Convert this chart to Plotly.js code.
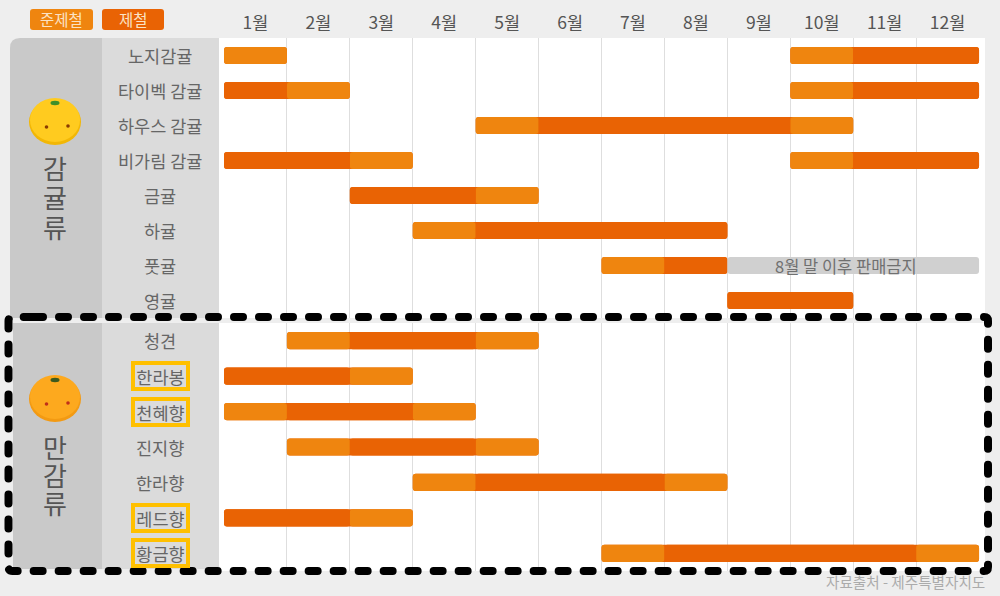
<!DOCTYPE html>
<html><head><meta charset="utf-8">
<script src="https://cdn.plot.ly/plotly-3.0.1.min.js"></script>
<style>html,body{margin:0;padding:0;background:#eeeeee}#c{width:1000px;height:596px}
.shapelayer path{stroke-linecap:round}</style></head><body><div id="c"></div>
<script>
const months = ['1월','2월','3월','4월','5월','6월','7월','8월','9월','10월','11월','12월'];
const citrusRows = ['노지감귤','타이벡 감귤','하우스 감귤','비가림 감귤','금귤','하귤','풋귤','영귤'];
const mandarinRows = ['청견','한라봉','천혜향','진지향','한라향','레드향','황금향'];
const highlighted = ['한라봉','천혜향','레드향','황금향'];
// [row, start month boundary, end month boundary]
const citrusNear = [['노지감귤',0,1],['노지감귤',9,10],['타이벡 감귤',1,2],['타이벡 감귤',9,10],['하우스 감귤',4,5],['하우스 감귤',9,10],['비가림 감귤',2,3],['비가림 감귤',9,10],['금귤',4,5],['하귤',3,4],['풋귤',6,7]];
const citrusPeak = [['노지감귤',10,12],['타이벡 감귤',0,1],['타이벡 감귤',10,12],['하우스 감귤',5,9],['비가림 감귤',0,2],['비가림 감귤',10,12],['금귤',2,4],['하귤',4,8],['풋귤',7,8],['영귤',8,10]];
const citrusBan = [['풋귤',8,12]];
const mandarinNear = [['청견',1,2],['청견',4,5],['한라봉',2,3],['천혜향',0,1],['천혜향',3,4],['진지향',1,2],['진지향',4,5],['한라향',3,4],['한라향',7,8],['레드향',2,3],['황금향',6,7],['황금향',11,12]];
const mandarinPeak = [['청견',2,4],['한라봉',0,2],['천혜향',1,3],['진지향',2,4],['한라향',4,7],['레드향',0,2],['황금향',7,11]];

const NEAR='#EF850F', PEAK='#E96304', BAN='#D0D0D0', TXT='#666666';
const FONT='"Noto Sans CJK KR","Noto Sans",sans-serif';
const px=x=>x/1000, py=y=>1-y/596;
const BARW=0.485, RADIUS=3;

function bars(segs,color,name,yaxis){
  return {type:'bar',orientation:'h',name:name,yaxis:yaxis,xaxis:'x',
    y:segs.map(s=>s[0]),base:segs.map(s=>s[1]),x:segs.map(s=>s[2]-s[1]),
    width:BARW,marker:{color:color,line:{width:0},cornerradius:RADIUS},hoverinfo:'y+name',showlegend:false};
}
// joined spans sit behind the segments so that only a run's outer corners look rounded
function joined(lists){
  const all=[].concat(...lists).slice().sort((a,b)=>a[0]===b[0]?a[1]-b[1]:(a[0]<b[0]?-1:1));
  const out=[];
  all.forEach(s=>{const l=out[out.length-1];
    if(l&&l[0]===s[0]&&l[2]===s[1]) l[2]=s[2]; else out.push([s[0],s[1],s[2]]);});
  return out;
}
const traces=[
  bars(joined([citrusNear,citrusPeak]),PEAK,'','y'),
  bars(joined([mandarinNear,mandarinPeak]),PEAK,'','y2'),
  bars(citrusNear,NEAR,'준제철','y'),bars(citrusPeak,PEAK,'제철','y'),bars(citrusBan,BAN,'판매금지','y'),
  bars(mandarinNear,NEAR,'준제철','y2'),bars(mandarinPeak,PEAK,'제철','y2')
];

function rect(x0,y0,x1,y1,color){
  return {type:'rect',xref:'paper',yref:'paper',x0:px(x0),x1:px(x1),y0:py(y0),y1:py(y1),fillcolor:color,line:{width:0},layer:'below'};
}
function roundPath(x0,y0,x1,y1,r,sx){
  const X=px,Y=py,s=sx===undefined?x0+r:sx;
  return `M${X(s)},${Y(y0)} L${X(x1-r)},${Y(y0)} Q${X(x1)},${Y(y0)} ${X(x1)},${Y(y0+r)} L${X(x1)},${Y(y1-r)} Q${X(x1)},${Y(y1)} ${X(x1-r)},${Y(y1)} L${X(x0+r)},${Y(y1)} Q${X(x0)},${Y(y1)} ${X(x0)},${Y(y1-r)} L${X(x0)},${Y(y0+r)} Q${X(x0)},${Y(y0)} ${X(x0+r)},${Y(y0)} L${X(s)},${Y(y0)}`;
}
function pathShape(d,fill,line,layer){
  return {type:'path',xref:'paper',yref:'paper',path:d,fillcolor:fill,line:line||{width:0},layer:layer||'below'};
}
function ell(cx,cy,rx,ry,color,layer){
  return {type:'circle',xref:'paper',yref:'paper',x0:px(cx-rx),x1:px(cx+rx),y0:py(cy+ry),y1:py(cy-ry),fillcolor:color,line:{width:0},layer:layer||'above'};
}
function fruit(cy,base,shade,dot,stem){
  return [ell(55,cy+1,26,23,shade),ell(55,cy-1,25,22,base),
    ell(55,cy-18,4.5,2.2,stem),ell(46.5,cy+6,1.8,1.8,dot),ell(68,cy+5,1.8,1.8,dot)];
}
const shapes=[
  pathShape(`M${px(10)},${py(318)} L${px(10)},${py(48)} Q${px(10)},${py(38)} ${px(20)},${py(38)} L${px(102)},${py(38)} L${px(102)},${py(318)} Z`,'#C9C9C9'),
  rect(102,38,219,318,'#DBDBDB'),
  rect(13,323,102,569,'#C9C9C9'),
  rect(102,323,219,569,'#DBDBDB'),
  pathShape(roundPath(30,9,93,30,3)+' Z',NEAR),
  pathShape(roundPath(102,9,164,30,3)+' Z',PEAK),
  ...fruit(121,'#FFCB1F','#F2B705','#8A3B00','#3F8F2A'),
  ...fruit(398,'#FDA91E','#F39A12','#C0301A','#3C5A1E'),
  pathShape(roundPath(8.5,317,988,571,4,34),'rgba(0,0,0,0)',{color:'#000000',width:8,dash:'9px,16px'},'above')
];

function rowNotes(rows,yref){
  return rows.map(r=>{
    const hi=highlighted.includes(r);
    const note={xref:'paper',yref:yref,x:px(160),y:r,text:r,showarrow:false,xanchor:'center',yanchor:'middle',
      font:{family:FONT,size:17.5,color:TXT},
      bgcolor:hi?'#DBDBDB':'rgba(0,0,0,0)',bordercolor:hi?'#FFC000':'rgba(0,0,0,0)',borderwidth:hi?4:0,borderpad:1};
    if(hi){note.width=49;note.height=20;}
    return note;
  });
}
function vertical(chars,ys){
  return chars.map((c,i)=>({xref:'paper',yref:'paper',x:px(55),y:py(ys[i]),text:c,showarrow:false,xanchor:'center',yanchor:'middle',
    font:{family:'"Liberation Sans","Noto Sans CJK KR",sans-serif',size:26,color:'#555555'}}));
}
function plain(x,y,text,size,color,anchor){
  return {xref:'paper',yref:'paper',x:px(x),y:py(y),text:text,showarrow:false,xanchor:anchor||'center',yanchor:'middle',font:{family:FONT,size:size,color:color}};
}
const annotations=[
  ...rowNotes(citrusRows,'y'),...rowNotes(mandarinRows,'y2'),
  ...vertical(['감','귤','류'],[170,199,229]),...vertical(['만','감','류'],[449,477,505]),
  plain(61.5,19,'준제철',15.5,'#FBE3C4'),
  plain(133,19,'제철',15.5,'#FBE3C4'),
  {xref:'x',yref:'y',x:9.89,y:'풋귤',text:'8월 말 이후 판매금지',showarrow:false,font:{family:FONT,size:16.5,color:'#707070'}},
  plain(987,581,'자료출처 - 제주특별자치도',14.6,'#ABABAB','right')
];
const layout={
  width:1000,height:596,margin:{l:0,r:0,t:0,b:0},paper_bgcolor:'#EEEEEE',plot_bgcolor:'#FFFFFF',
  font:{family:FONT,color:TXT},barmode:'overlay',showlegend:false,
  xaxis:{domain:[0.219,0.985],anchor:'y',side:'top',range:[-0.0795,12.0945],zeroline:false,showline:false,
    tickmode:'array',tickvals:months.map((m,i)=>i+0.5),ticktext:months,ticks:'outside',ticklen:1,tickcolor:'rgba(0,0,0,0)',
    tickfont:{family:FONT,size:17.5,color:'#555555'},showgrid:false,
    minor:{tickmode:'array',tickvals:[1,2,3,4,5,6,7,8,9,10,11],showgrid:true,gridcolor:'#DEDEDE',gridwidth:1,ticks:''}},
  yaxis:{domain:[py(318),py(38)],type:'category',categoryorder:'array',categoryarray:citrusRows,range:[7.5,-0.5],
    showticklabels:false,showgrid:false,zeroline:false,ticks:''},
  yaxis2:{domain:[py(571),py(323)],type:'category',categoryorder:'array',categoryarray:mandarinRows,range:[6.5,-0.5],
    anchor:'x',showticklabels:false,showgrid:false,zeroline:false,ticks:''},
  shapes:shapes,annotations:annotations
};
Plotly.newPlot('c',traces,layout,{displayModeBar:false,staticPlot:true});
</script></body></html>
